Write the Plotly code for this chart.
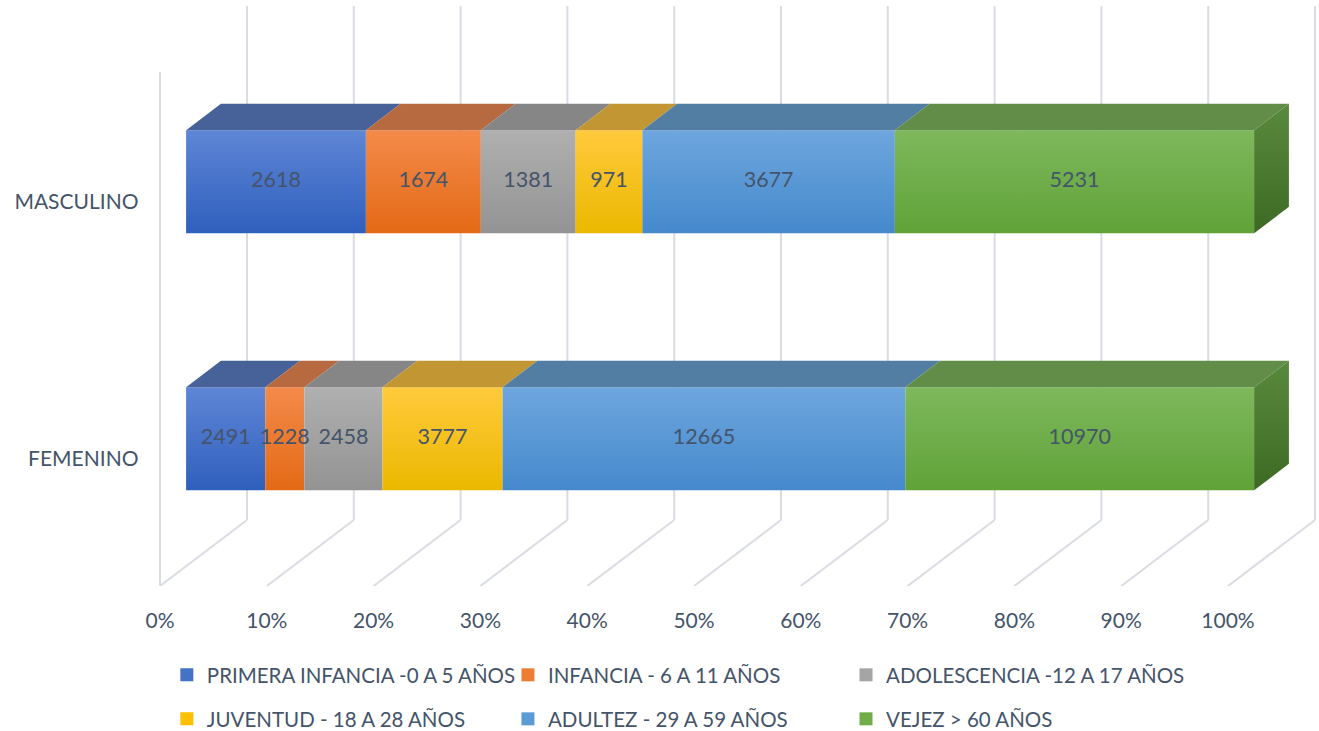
import plotly.graph_objects as go

# data
categories = ["FEMENINO", "MASCULINO"]
groups = [
    "PRIMERA INFANCIA -0 A 5 AÑOS",
    "INFANCIA - 6 A 11 AÑOS",
    "ADOLESCENCIA -12 A 17 AÑOS",
    "JUVENTUD - 18 A 28 AÑOS",
    "ADULTEZ - 29 A 59 AÑOS",
    "VEJEZ > 60 AÑOS",
]
femenino = [2491, 1228, 2458, 3777, 12665, 10970]
masculino = [2618, 1674, 1381, 971, 3677, 5231]
x_ticks = list(range(0, 101, 10))

# face colours (front light, front dark, top face)
front_light = ["#5f86d6", "#f48a4a", "#b0b0b0", "#ffca3c", "#6ea6de", "#7eb85c"]
front_dark = ["#2f5fbd", "#e36a16", "#939393", "#ebb800", "#4589cc", "#60a238"]
top_colors = ["#476298", "#b76a3f", "#868686", "#c29733", "#527ea4", "#618d48"]
legend_colors = ["#4472c4", "#ed7d31", "#a5a5a5", "#ffc000", "#5b9bd5", "#70ad47"]
side_light, side_dark = "#588a3d", "#3d6a23"

TEXT = "#44546a"
GRID = "#d9dce3"
FONT = "Lato"

# oblique 3D geometry (in axis units)
DX, DY = 8.146, 0.2568      # floor depth vector
F, B = 0.3, 0.7             # bar front / back as fraction of depth
H = 0.4008                  # bar thickness
FLOOR_Y = -0.496
WALL_TOP = 1.761

fig = go.Figure()


def face(xs, ys, light, dark=None):
    grad = None
    if dark is not None:
        grad = dict(type="vertical", colorscale=[[0, dark], [1, light]])
    fig.add_trace(go.Scatter(
        x=xs + [xs[0]], y=ys + [ys[0]], mode="lines", fill="toself",
        line=dict(width=0), fillcolor=light, fillgradient=grad,
        showlegend=False, hoverinfo="skip",
    ))


for ci, vals in enumerate([femenino, masculino]):
    total = sum(vals)
    yf0 = ci + F * DY - H / 2
    yf1 = ci + F * DY + H / 2
    yb1 = yf1 + (B - F) * DY
    start = 0
    centers = []
    for gi, v in enumerate(vals):
        p0 = start / total * 100
        p1 = (start + v) / total * 100
        start += v
        # front face
        face([p0 + F * DX, p1 + F * DX, p1 + F * DX, p0 + F * DX],
             [yf0, yf0, yf1, yf1], front_light[gi], front_dark[gi])
        # top face
        face([p0 + F * DX, p1 + F * DX, p1 + B * DX, p0 + B * DX],
             [yf1, yf1, yb1, yb1], top_colors[gi])
        centers.append((p0 + p1) / 2 + F * DX)
        if gi == len(vals) - 1:
            # right side face
            face([p1 + F * DX, p1 + B * DX, p1 + B * DX, p1 + F * DX],
                 [yf0, yf0 + (B - F) * DY, yb1, yf1], side_light, side_dark)
    fig.add_trace(go.Scatter(
        x=centers, y=[ci + F * DY] * len(vals), mode="text",
        text=[str(v) for v in vals],
        textfont=dict(family=FONT, size=21.5, color=TEXT),
        showlegend=False, hoverinfo="skip",
    ))

# legend: one small legend per entry, 3 columns x 2 rows
legend_x = [0.1265, 0.3851, 0.6414]
legend_y = [0.0766, 0.0164]
legend_layout = {}
for gi, g in enumerate(groups):
    key = "legend" if gi == 0 else f"legend{gi + 1}"
    fig.add_trace(go.Scatter(
        x=[None], y=[None], mode="markers", name=g,
        marker=dict(symbol="square", size=13, color=legend_colors[gi]),
        legend=key,
    ))
    legend_layout[key] = dict(
        orientation="h", xref="container", yref="container",
        xanchor="left", yanchor="middle",
        x=legend_x[gi % 3], y=legend_y[gi // 3],
        font=dict(family=FONT, size=20.5, color=TEXT),
        bgcolor="rgba(0,0,0,0)",
    )

# floor and walls
shapes = []
for p in x_ticks:
    shapes.append(dict(type="line", xref="x", yref="y", layer="below",
                       x0=p, y0=FLOOR_Y, x1=p + DX, y1=FLOOR_Y + DY,
                       line=dict(color=GRID, width=2)))
    shapes.append(dict(type="line", xref="x", yref="y", layer="below",
                       x0=p + DX, y0=FLOOR_Y + DY, x1=p + DX, y1=WALL_TOP,
                       line=dict(color=GRID, width=2)))
shapes.append(dict(type="line", xref="x", yref="y", layer="below",
                   x0=0, y0=FLOOR_Y, x1=0, y1=WALL_TOP - DY,
                   line=dict(color=GRID, width=2)))

fig.update_layout(
    width=1319, height=731,
    margin=dict(l=0, r=0, t=0, b=145),
    plot_bgcolor="white", paper_bgcolor="white",
    font=dict(family=FONT, size=21, color=TEXT),
    shapes=shapes,
    xaxis=dict(range=[-14.98, 108.52], tickvals=x_ticks,
               ticktext=[f"{t}%" for t in x_ticks],
               showgrid=False, zeroline=False, showline=False,
               ticklabelstandoff=20, fixedrange=True, automargin=False),
    yaxis=dict(range=[FLOOR_Y, 1.784], tickvals=[0, 1], ticktext=categories,
               showgrid=False, zeroline=False, showline=False,
               anchor="free", position=0.105, fixedrange=True, automargin=False),
    **legend_layout,
)

fig.write_html("out.html", config={"displayModeBar": False},
               post_script="document.body.style.margin='0';")
